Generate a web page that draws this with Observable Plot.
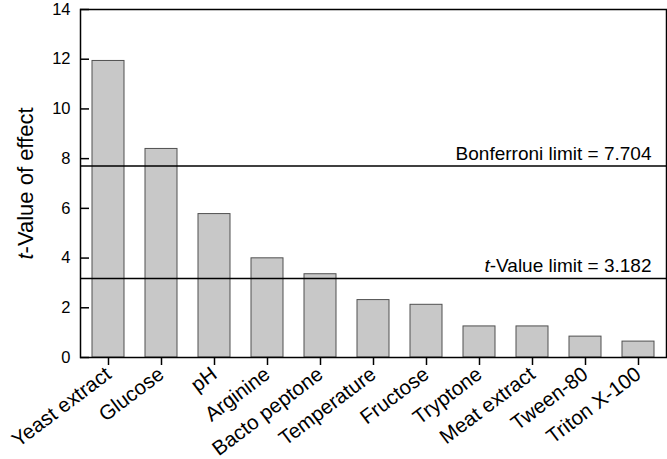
<!DOCTYPE html>
<html>
<head>
<meta charset="utf-8">
<script src="https://cdn.jsdelivr.net/npm/d3@7"></script>
<script src="https://cdn.jsdelivr.net/npm/@observablehq/plot@0.6"></script>
<style>
  html, body { margin: 0; padding: 0; background: #fff; }
</style>
</head>
<body>
<div id="chart"></div>
<script>
const categories = ["Yeast extract", "Glucose", "pH", "Arginine", "Bacto peptone", "Temperature", "Fructose", "Tryptone", "Meat extract", "Tween-80", "Triton X-100"];
const tValues = [11.93, 8.39, 5.77, 3.99, 3.35, 2.31, 2.12, 1.25, 1.25, 0.84, 0.64];
const limitValues = [7.704, 3.182];
const limitLabels = ["Bonferroni limit = 7.704", "t-Value limit = 3.182"];
const yTicks = [0, 2, 4, 6, 8, 10, 12, 14];
const yLabel = "t-Value of effect";

const bars = categories.map((name, i) => ({name, value: tValues[i]}));
const limits = limitValues.map((value, i) => ({value, label: limitLabels[i]}));

const W = 667, ML = 80, MR = 1;
const chart = Plot.plot({
  width: W,
  height: 459,
  marginLeft: ML,
  marginRight: MR,
  marginTop: 9,
  marginBottom: 102,
  style: {fontFamily: "'Liberation Sans', Arial, sans-serif", fontSize: "17px", color: "#000", background: "#fff"},
  x: {domain: categories, paddingInner: 0.4, paddingOuter: 0.2, label: null},
  y: {domain: [0, 14], label: null},
  marks: [
    Plot.barY(bars, {x: "name", y: "value", fill: "#c8c8c8", stroke: "#505050", strokeWidth: 1}),
    Plot.ruleY(limits, {y: "value", stroke: "#000", strokeWidth: 1.5}),
    Plot.text(limits, {y: "value", text: "label", frameAnchor: "right", textAnchor: "end", lineAnchor: "bottom", dx: -15, dy: -6, fontSize: 19, fill: "#000"}),
    Plot.frame({stroke: "#000", strokeWidth: 1.5}),
    Plot.ruleY(yTicks, {y: d => d, stroke: "#000", strokeWidth: 1.5, insetRight: W - ML - MR - 9}),
    Plot.axisY({ticks: yTicks, tickSize: 0, tickPadding: 10, fontSize: 16.5, label: null}),
    Plot.axisX({tickSize: 8, tickRotate: -37, fontSize: 20.5, label: null, strokeWidth: 1.5}),
    Plot.text([yLabel], {text: d => d, frameAnchor: "left", textAnchor: "middle", rotate: -90, dx: -55, fontSize: 22, fill: "#000"})
  ]
});

const ns = "http://www.w3.org/2000/svg";
chart.querySelectorAll("text").forEach(t => {
  if (t.textContent.startsWith("t-")) {
    const rest = t.textContent.slice(1);
    t.textContent = "";
    const it = document.createElementNS(ns, "tspan");
    it.setAttribute("font-style", "italic");
    it.textContent = "t";
    t.append(it, document.createTextNode(rest));
  }
});

document.getElementById("chart").append(chart);
</script>
</body>
</html>
